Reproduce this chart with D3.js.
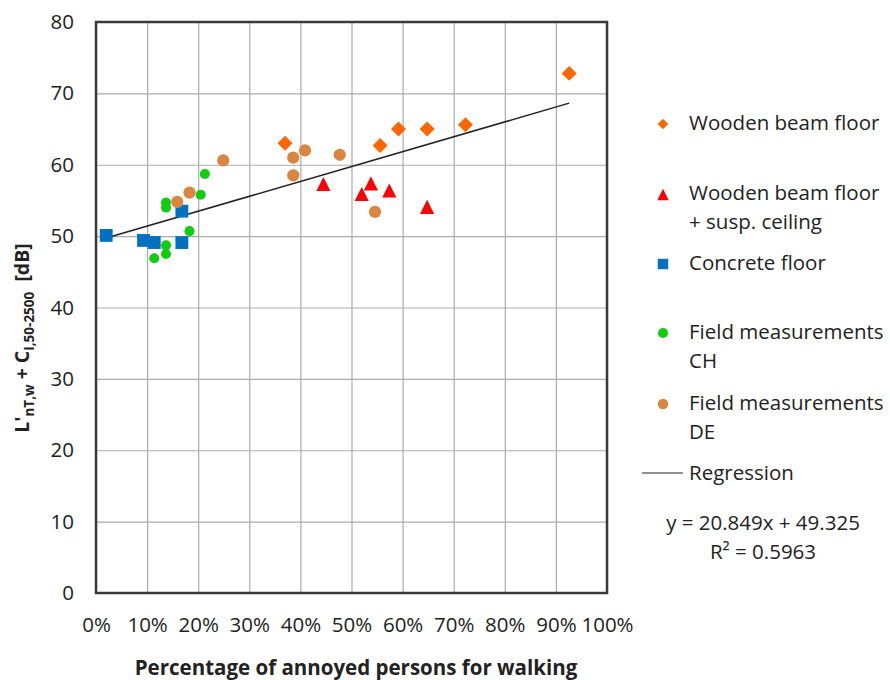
<!DOCTYPE html>
<html>
<head>
<meta charset="utf-8">
<script src="https://cdn.jsdelivr.net/npm/d3@7"></script>
<style>
  html, body { margin: 0; padding: 0; background: #fff; }
  svg { display: block; font-family: "Open Sans", "Noto Sans", sans-serif; }
</style>
</head>
<body>
<svg id="chart" width="890" height="680"></svg>
<script>
// Share of annoyed persons (fraction) and L'nT,w + CI,50-2500 in dB, per floor group
const woodenX = [0.370, 0.556, 0.592, 0.648, 0.723, 0.926];
const woodenY = [63.0, 62.7, 65.0, 65.0, 65.6, 72.8];

const suspX = [0.445, 0.538, 0.520, 0.574, 0.648];
const suspY = [57.2, 57.3, 55.8, 56.3, 54.0];

const concreteX = [0.020, 0.093, 0.114, 0.168, 0.168];
const concreteY = [50.1, 49.4, 49.1, 53.5, 49.1];

const chX = [0.213, 0.205, 0.137, 0.137, 0.183, 0.137, 0.137, 0.114];
const chY = [58.7, 55.8, 54.7, 54.0, 50.7, 48.7, 47.5, 46.9];

const deX = [0.249, 0.183, 0.159, 0.386, 0.409, 0.477, 0.386, 0.546];
const deY = [60.6, 56.1, 54.8, 61.0, 62.0, 61.4, 58.5, 53.4];

// Linear fit over all points
const slope = 20.849;
const intercept = 49.325;
const rSquared = 0.5963;

const xTicks = [0, 0.1, 0.2, 0.3, 0.4, 0.5, 0.6, 0.7, 0.8, 0.9, 1.0];
const yTicks = [0, 10, 20, 30, 40, 50, 60, 70, 80];

const legendLabels = [
  ["Wooden beam floor"],
  ["Wooden beam floor", "+ susp. ceiling"],
  ["Concrete floor"],
  ["Field measurements", "CH"],
  ["Field measurements", "DE"]
];

// Custom marker shapes
const diamond = {
  draw(ctx, size) {
    const h = Math.sqrt(size * 2) / 2;
    ctx.moveTo(0, -h); ctx.lineTo(h, 0); ctx.lineTo(0, h); ctx.lineTo(-h, 0); ctx.closePath();
  }
};
const triangle = {
  draw(ctx, size) {
    const s = Math.sqrt(size);
    ctx.moveTo(0, -s * 0.55); ctx.lineTo(s / 2, s * 0.45); ctx.lineTo(-s / 2, s * 0.45); ctx.closePath();
  }
};

const series = [
  { xs: woodenX, ys: woodenY, type: diamond, size: 112, legendSize: 56, color: "#FF6600" },
  { xs: suspX, ys: suspY, type: triangle, size: 200, legendSize: 130, color: "#FF0000" },
  { xs: concreteX, ys: concreteY, type: d3.symbolSquare, size: 165, legendSize: 110, color: "#0070C0" },
  { xs: chX, ys: chY, type: d3.symbolCircle, size: 80, legendSize: 80, color: "#11CC11" },
  { xs: deX, ys: deY, type: d3.symbolCircle, size: 118, legendSize: 85, color: "#DA8640" }
];

const plot = { left: 96, top: 22, right: 607, bottom: 593 };
const svg = d3.select("#chart");

const x = d3.scaleLinear().domain([0, 1]).range([plot.left, plot.right]);
const y = d3.scaleLinear().domain([0, 80]).range([plot.bottom, plot.top]);

// Grid lines
svg.append("g")
  .attr("transform", `translate(0,${plot.bottom})`)
  .call(d3.axisBottom(x).tickValues(xTicks).tickSize(-(plot.bottom - plot.top)).tickFormat(""))
  .call(g => g.select(".domain").remove())
  .call(g => g.selectAll("line").attr("stroke", "#ABABAB").attr("stroke-width", 1.2));
svg.append("g")
  .attr("transform", `translate(${plot.left},0)`)
  .call(d3.axisLeft(y).tickValues(yTicks).tickSize(-(plot.right - plot.left)).tickFormat(""))
  .call(g => g.select(".domain").remove())
  .call(g => g.selectAll("line").attr("stroke", "#ABABAB").attr("stroke-width", 1.2));

// Tick labels
svg.append("g")
  .attr("transform", `translate(0,${plot.bottom})`)
  .call(d3.axisBottom(x).tickValues(xTicks).tickSize(0).tickPadding(24).tickFormat(d3.format(".0%")))
  .call(g => g.select(".domain").remove())
  .call(g => g.selectAll("text").attr("font-size", 20.5).attr("fill", "#222").attr("font-family", "'Open Sans', sans-serif"));
svg.append("g")
  .attr("transform", `translate(${plot.left},0)`)
  .call(d3.axisLeft(y).tickValues(yTicks).tickSize(0).tickPadding(22).tickFormat(d3.format("d")))
  .call(g => g.select(".domain").remove())
  .call(g => g.selectAll("text").attr("font-size", 20.5).attr("fill", "#222").attr("font-family", "'Open Sans', sans-serif"));

// Plot frame
svg.append("rect")
  .attr("x", plot.left).attr("y", plot.top)
  .attr("width", plot.right - plot.left).attr("height", plot.bottom - plot.top)
  .attr("fill", "none").attr("stroke", "#3a3a3a").attr("stroke-width", 2.5);

// Regression line across the measured range
const allX = [].concat(woodenX, suspX, concreteX, chX, deX);
const xr = d3.extent(allX);
svg.append("path")
  .datum(xr.map(v => [v, slope * v + intercept]))
  .attr("d", d3.line().x(d => x(d[0])).y(d => y(d[1])))
  .attr("stroke", "#222").attr("stroke-width", 1.5).attr("fill", "none");

// Markers
series.forEach(s => {
  const sym = d3.symbol().type(s.type).size(s.size);
  svg.append("g").selectAll("path")
    .data(s.xs.map((v, i) => [v, s.ys[i]]))
    .join("path")
    .attr("d", sym)
    .attr("transform", d => `translate(${x(d[0])},${y(d[1])})`)
    .attr("fill", s.color);
});

// Legend
const legendMarkerX = 663;
const legendTextX = 689;
const legendRows = [123, 193, 263, 332, 403];
const lineGap = 29;
const legend = svg.append("g").attr("font-size", 20.5).attr("fill", "#222");
series.forEach((s, i) => {
  const yy = legendRows[i];
  const markerY = s.type === triangle ? yy + 2 : yy + 1;
  legend.append("path")
    .attr("d", d3.symbol().type(s.type).size(s.legendSize))
    .attr("transform", `translate(${legendMarkerX},${markerY})`)
    .attr("fill", s.color);
  legendLabels[i].forEach((t, j) => {
    legend.append("text")
      .attr("x", legendTextX).attr("y", yy + j * lineGap)
      .attr("dy", "0.35em").text(t);
  });
});
legend.append("line")
  .attr("x1", 642).attr("x2", 683).attr("y1", 473).attr("y2", 473)
  .attr("stroke", "#222").attr("stroke-width", 1.2);
legend.append("text").attr("x", legendTextX).attr("y", 473).attr("dy", "0.35em").text("Regression");

// Fit equation
const fmtEq = `y = ${d3.format(".3f")(slope)}x + ${d3.format(".3f")(intercept)}`;
legend.append("text").attr("x", 763).attr("y", 523).attr("dy", "0.35em")
  .attr("text-anchor", "middle").text(fmtEq);
legend.append("text").attr("x", 763).attr("y", 552).attr("dy", "0.35em")
  .attr("text-anchor", "middle").text(`R² = ${rSquared}`);

// Axis titles
svg.append("text")
  .attr("x", 356).attr("y", 668).attr("dy", "0.35em")
  .attr("text-anchor", "middle").attr("font-weight", "bold").attr("font-size", 20.5)
  .attr("fill", "#222")
  .text("Percentage of annoyed persons for walking");

const yTitle = svg.append("text")
  .attr("transform", "translate(29,338) rotate(-90)")
  .attr("text-anchor", "middle").attr("font-weight", "bold").attr("font-size", 19.5)
  .attr("fill", "#222");
yTitle.append("tspan").text("L'");
yTitle.append("tspan").attr("font-size", 13.5).attr("dy", 5).text("nT,w");
yTitle.append("tspan").attr("dy", -5).text(" + C");
yTitle.append("tspan").attr("font-size", 13.5).attr("dy", 5).text("I,50-2500");
yTitle.append("tspan").attr("dy", -5).text("\u00A0 [dB]");
</script>
</body>
</html>
